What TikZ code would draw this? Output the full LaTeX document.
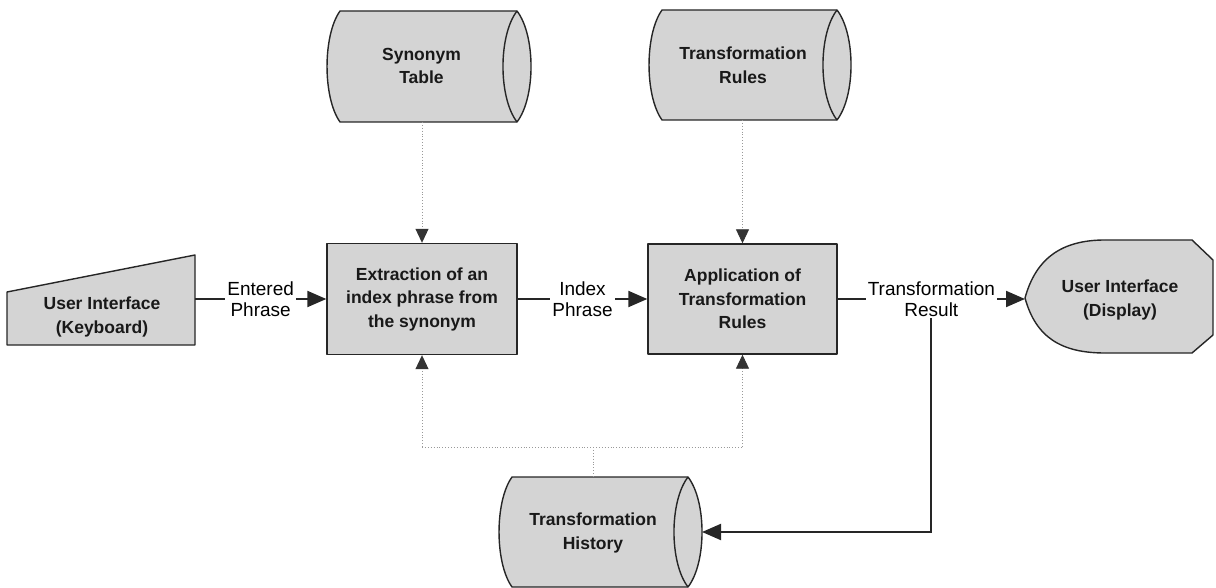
\documentclass[tikz,border=0pt]{standalone}
\usepackage{fontspec}
\setmainfont{Liberation Sans}
\usetikzlibrary{arrows.meta}
\tikzset{
  shapestyle/.style={draw=black!85, line width=1.4pt, fill=black!17, line join=round},
  btxt/.style={font=\fontsize{17.5}{23.5}\selectfont\bfseries, align=center, text=black!90},
  ltxt/.style={font=\fontsize{19}{20.5}\selectfont, align=center, fill=white, inner xsep=2pt, inner ysep=1pt, text=black},
  flow/.style={line width=2pt, draw=black!85, -{Triangle[length=19pt,width=16pt]}},
  refline/.style={dotted, draw=black!40, line width=0.9pt},
  refarrow/.style={refline, -{Triangle[length=14pt,width=13pt,color=black!80]}}
}
\newcommand\mycyl[4]{%
  \filldraw[shapestyle] (#1,#3) -- (#2,#3)
    .. controls ({#2+18.7},{#3+0.22*(#4-#3)}) and ({#2+18.7},{#4-0.22*(#4-#3)}) .. (#2,#4)
    -- (#1,#4)
    .. controls ({#1-17.3},{#4-0.22*(#4-#3)}) and ({#1-17.3},{#3+0.22*(#4-#3)}) .. (#1,#3) -- cycle;
  \draw[shapestyle, fill=none] (#2,#3)
    .. controls ({#2-18.7},{#3+0.22*(#4-#3)}) and ({#2-18.7},{#4-0.22*(#4-#3)}) .. (#2,#4);}
\begin{document}
\begin{tikzpicture}[x=1pt,y=-1pt]
\useasboundingbox (0,0) rectangle (1216,588);

% data stores
\mycyl{340}{517}{11}{122}
\node[btxt] (syn) at (421.5,66) {Synonym\\Table};
\coordinate (synb) at (422,122);

\mycyl{662}{837}{10}{120}
\node[btxt] (rul) at (743,65) {Transformation\\Rules};
\coordinate (rulb) at (742.5,120);

\mycyl{512}{688}{477}{587}
\node[btxt] (hist) at (593,533) {Transformation\\History};
\coordinate (histin) at (702,532);
\coordinate (histt) at (593,477);

% process boxes
\node[shapestyle, btxt, minimum width=190pt, minimum height=111pt, inner sep=0pt] (ext) at (422,299) {Extraction of an\\index phrase from\\the synonym};
\node[shapestyle, btxt, minimum width=189pt, minimum height=110pt, inner sep=0pt] (app) at (742.5,299) {Application of\\Transformation\\Rules};

% keyboard input
\filldraw[shapestyle] (7,292) -- (195,255) -- (195,345) -- (7,345) -- cycle;
\node[btxt] (kb) at (102,317) {User Interface\\(Keyboard)};
\coordinate (kbout) at (195,299);

% display
\filldraw[shapestyle] (1025,298) .. controls (1036,258) and (1062,240) .. (1105,240)
  -- (1192,240) -- (1213,260) -- (1213,335) -- (1192,353) -- (1105,353)
  .. controls (1062,353) and (1036,338) .. (1025,298) -- cycle;
\node[btxt] (disp) at (1120,300) {User Interface\\(Display)};
\coordinate (dispin) at (1025,299);

% main flow
\draw[flow] (kbout) -- node[ltxt] (lent) {Entered\\Phrase} (ext.west);
\draw[flow] (ext.east) -- node[ltxt] (lidx) {Index\\Phrase} (app.west);
\draw[flow] (app.east) -- node[ltxt] (res) {Transformation\\Result} (dispin);
\draw[flow] (res.south) |- (histin);

% reference lines
\draw[refarrow] (synb) -- (ext.north);
\draw[refarrow] (rulb) -- (app.north);
\coordinate (j1) at (422,447);
\coordinate (j2) at (742.5,447);
\coordinate (jm) at (593,447);
\draw[refarrow] (j1) -- (ext.south);
\draw[refarrow] (j2) -- (app.south);
\draw[refline] (j1) -- (j2);
\draw[refline] (jm) -- (histt);
\end{tikzpicture}
\end{document}
